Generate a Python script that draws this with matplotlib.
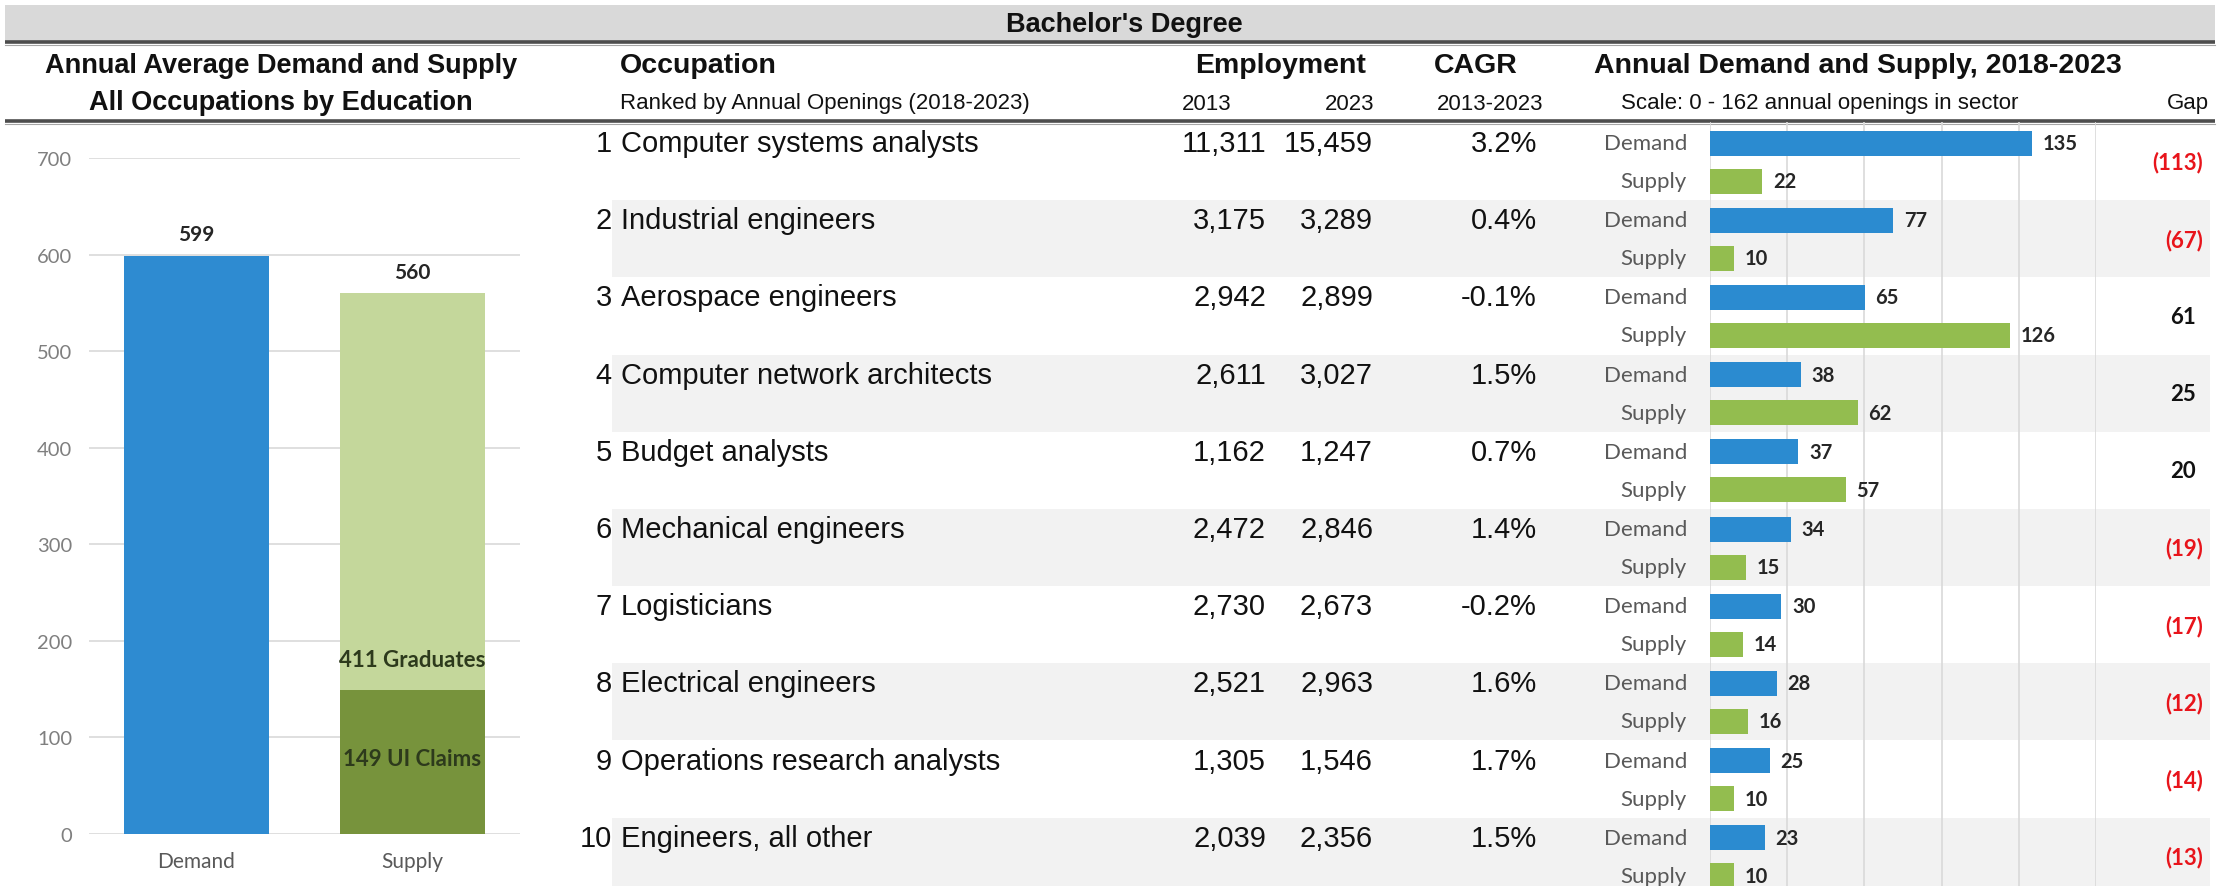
import matplotlib
matplotlib.use("Agg")
import matplotlib.pyplot as plt
from matplotlib import font_manager

# fonts: Arial look for the table, Calibri-like for the chart labels
_names = {f.name for f in font_manager.fontManager.ttflist}
TABLE_FONT = "Liberation Sans"
CHART_FONT = "Lato" if "Lato" in _names else "DejaVu Sans"

# ---- data ----
summary_cats = ["Demand", "Supply"]
demand_total = 599
ui_claims = 149
graduates = 411

ranks = list(range(1, 11))
occupations = [
    "Computer systems analysts",
    "Industrial engineers",
    "Aerospace engineers",
    "Computer network architects",
    "Budget analysts",
    "Mechanical engineers",
    "Logisticians",
    "Electrical engineers",
    "Operations research analysts",
    "Engineers, all other",
]
emp_2013 = [11311, 3175, 2942, 2611, 1162, 2472, 2730, 2521, 1305, 2039]
emp_2023 = [15459, 3289, 2899, 3027, 1247, 2846, 2673, 2963, 1546, 2356]
cagr = [3.2, 0.4, -0.1, 1.5, 0.7, 1.4, -0.2, 1.6, 1.7, 1.5]
demand = [135, 77, 65, 38, 37, 34, 30, 28, 25, 23]
supply = [22, 10, 126, 62, 57, 15, 14, 16, 10, 10]
gap = [-113, -67, 61, 25, 20, -19, -17, -12, -14, -13]
scale_max = 162

BLUE = "#2b8bd0"
GREEN = "#93bd4f"
LIGHT_GREEN = "#c4d79b"
DARK_GREEN = "#77933c"
BAND = "#f2f2f2"

W, H = 2224, 887
fig = plt.figure(figsize=(W / 100, H / 100), dpi=100)

# background axes in pixel units (origin top-left)
bg = fig.add_axes([0, 0, 1, 1])
bg.set_xlim(0, W)
bg.set_ylim(H, 0)
bg.axis("off")


def fig_rect(x0, y0, x1, y1):
    return [x0 / W, 1 - y1 / H, (x1 - x0) / W, (y1 - y0) / H]


# title band
bg.fill_between([5, 2215], 6, 42, color="#d9d9d9", lw=0, zorder=0)
bg.text(1124, 25, "Bachelor's Degree", ha="center", va="center", fontsize=19.5,
        fontweight="bold", family=TABLE_FONT, color="#111111")
for y in (43, 122):
    bg.plot([5, 2215], [y, y], color="#4d4d4d", lw=2.6, solid_capstyle="butt", zorder=3)
    bg.plot([5, 2215], [y + 2.5, y + 2.5], color="#a6a6a6", lw=0.8, zorder=3)

# headers
hdr = dict(fontweight="bold", family=TABLE_FONT, color="#111111", va="center")
sub = dict(fontsize=16, family=TABLE_FONT, color="#111111", va="center")
bg.text(281, 66, "Annual Average Demand and Supply", ha="center", fontsize=19.5, **hdr)
bg.text(281, 103, "All Occupations by Education", ha="center", fontsize=19.5, **hdr)
bg.text(620, 66, "Occupation", ha="left", fontsize=20.5, **hdr)
bg.text(1281, 66, "Employment", ha="center", fontsize=20.5, **hdr)
bg.text(1476, 66, "CAGR", ha="center", fontsize=20.5, **hdr)
bg.text(1858, 66, "Annual Demand and Supply, 2018-2023", ha="center", fontsize=20.5, **hdr)
bg.text(620, 104, "Ranked by Annual Openings (2018-2023)", ha="left", **sub)
bg.text(1207, 104, "2013", ha="center", **sub)
bg.text(1374, 104, "2023", ha="right", **sub)
bg.text(1490, 104, "2013-2023", ha="center", **sub)
bg.text(1820, 104, "Scale: 0 - 162 annual openings in sector", ha="center", **sub)
bg.text(2188, 104, "Gap", ha="center", **sub)

# table rows
ROW0, PITCH, PAIR = 144, 77.2, 38
row_y = [ROW0 + i * PITCH for i in range(len(occupations))]
cell = dict(fontsize=21, family=TABLE_FONT, color="#111111", va="center")
lab = dict(fontsize=16, family=CHART_FONT, color="#595959", va="center", ha="right")
for i, y in enumerate(row_y):
    if i % 2 == 1:
        bg.fill_between([612, 2210], y - 20, y + PAIR + 19, color=BAND, lw=0, zorder=0)
    bg.text(612, y, str(ranks[i]), ha="right", **cell)
    bg.text(621, y, occupations[i], ha="left", **cell)
    bg.text(1266, y, f"{emp_2013[i]:,}", ha="right", **cell)
    bg.text(1373, y, f"{emp_2023[i]:,}", ha="right", **cell)
    bg.text(1537, y, f"{cagr[i]:.1f}%", ha="right", **cell)
    bg.text(1687, y, "Demand", **lab)
    bg.text(1687, y + PAIR, "Supply", **lab)
    g = gap[i]
    gap_txt = f"({abs(g)})" if g < 0 else str(g)
    bg.text(2203 if g < 0 else 2196, y + PAIR / 2, gap_txt, ha="right", va="center",
            fontsize=16, fontweight="bold", family=CHART_FONT,
            color="#e8141b" if g < 0 else "#111111")

# mini demand/supply bars
mini = fig.add_axes(fig_rect(1710, 123, 2096, H))
mini.set_xlim(0, scale_max)
mini.set_ylim(H, 123)
mini.patch.set_alpha(0)
for s in mini.spines.values():
    s.set_visible(False)
mini.set_xticks([scale_max * k / 5 for k in range(6)])
mini.set_yticks([])
mini.tick_params(length=0, labelbottom=False)
mini.grid(axis="x", color="#d9d9d9", lw=1.2)
mini.set_axisbelow(True)
mini.barh(row_y, demand, height=25, color=BLUE, align="center")
mini.barh([y + PAIR for y in row_y], supply, height=25, color=GREEN, align="center")
val = dict(fontsize=14.5, fontweight="bold", family=CHART_FONT, color="#262626", va="center")
for i, y in enumerate(row_y):
    mini.text(demand[i] + 4.5, y, str(demand[i]), **val)
    mini.text(supply[i] + 4.5, y + PAIR, str(supply[i]), **val)

# summary chart on the left
left = fig.add_axes(fig_rect(89, 159, 520, 835))
left.set_ylim(0, 700)
left.set_xlim(-0.4975, 1.4975)
left.bar([0], [demand_total], width=0.667, color="#2e8bd1", zorder=2)
left.bar([1], [ui_claims], width=0.667, color=DARK_GREEN, zorder=2)
left.bar([1], [graduates], bottom=[ui_claims], width=0.667, color=LIGHT_GREEN, zorder=2)
left.set_yticks(range(0, 701, 100))
left.set_xticks([0, 1], summary_cats)
left.grid(axis="y", color="#d9d9d9", lw=1.2, zorder=0)
left.tick_params(length=0, labelsize=14.5, labelcolor="#7f7f7f", pad=12)
left.tick_params(axis="x", labelsize=15, labelcolor="#595959", pad=12)
for lbl in left.get_xticklabels() + left.get_yticklabels():
    lbl.set_family(CHART_FONT)
for s in left.spines.values():
    s.set_visible(False)
tot = dict(ha="center", va="bottom", fontsize=15, fontweight="bold",
           family=CHART_FONT, color="#262626")
left.text(0, demand_total + 12, str(demand_total), **tot)
left.text(1, ui_claims + graduates + 12, str(ui_claims + graduates), **tot)
seg = dict(ha="center", va="center", fontsize=16, fontweight="bold",
           family=CHART_FONT, color="#2d3a1c")
left.text(1, ui_claims + 32, f"{graduates} Graduates", **seg)
left.text(1, ui_claims / 2 + 4, f"{ui_claims} UI Claims", **seg)

fig.savefig("out.png", dpi=100)
